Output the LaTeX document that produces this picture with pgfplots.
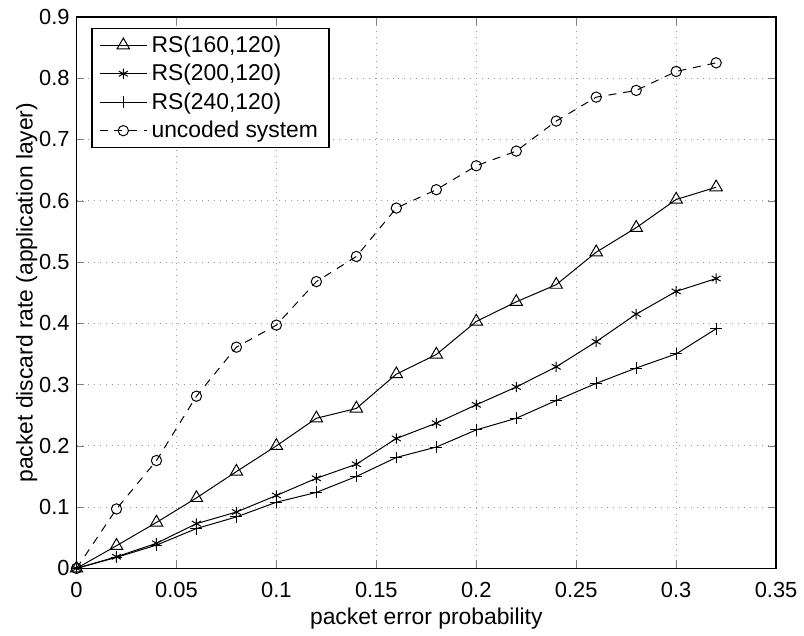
\documentclass[border=0pt]{standalone}
\usepackage{pgfplots}
\pgfplotsset{compat=1.18}
\usepackage{fontspec}
\setmainfont{Liberation Sans}
\usetikzlibrary{calc}
\begin{document}
\begin{tikzpicture}
\begin{axis}[
  scale only axis,
  width=352pt, height=277.5pt,
  xmin=0, xmax=0.35, ymin=0, ymax=0.9,
  xtick={0,0.05,...,0.35}, ytick={0,0.1,...,0.9},
  xticklabels={0,0.05,0.1,0.15,0.2,0.25,0.3,0.35},
  yticklabels={0,0.1,0.2,0.3,0.4,0.5,0.6,0.7,0.8,0.9},
  /pgf/number format/assume math mode=true,
  tick label style={font=\fontsize{11}{13}\selectfont},
  label style={font=\fontsize{11.5}{13}\selectfont},
  xticklabel style={yshift=-3.5pt},
  yticklabel style={xshift=0pt},
  xlabel={packet error probability},
  ylabel={packet discard rate (application layer)},
  xlabel style={yshift=2pt},
  ylabel style={yshift=-6pt},
  tick align=inside, tick pos=both,
  major tick length=4pt,
  grid=major,
  major grid style={dash pattern=on 0.5pt off 2.5pt, gray!80, line width=0.5pt},
  axis line style={line width=0.7pt},
  every axis plot/.append style={black, line width=0.5pt},
  legend style={at={(0,1)}, anchor=north west, xshift=7.5pt, yshift=-5.5pt,
    draw=black, line width=0.7pt, font=\fontsize{11.5}{13}\selectfont,
    inner xsep=3.5pt, inner ysep=1.5pt, row sep=0.5pt},
  legend cell align=left,
  legend image code/.code={%
    \draw[mark repeat=2,mark phase=2, line width=0.5pt]
      plot coordinates {(0cm,0cm) (0.42cm,0cm) (0.84cm,0cm)};},
]
\addplot[mark=triangle, mark size=3.6pt, mark options={solid}] coordinates {
(0,0) (0.02,0.037) (0.04,0.075) (0.06,0.115) (0.08,0.158) (0.1,0.200)
(0.12,0.245) (0.14,0.261) (0.16,0.317) (0.18,0.349) (0.2,0.403)
(0.22,0.435) (0.24,0.463) (0.26,0.516) (0.28,0.556) (0.3,0.602) (0.32,0.622)};
\addlegendentry{RS(160,120)}
\addplot[mark=asterisk, mark size=2.6pt, mark options={solid}] coordinates {
(0,0) (0.02,0.019) (0.04,0.041) (0.06,0.073) (0.08,0.092) (0.1,0.119)
(0.12,0.147) (0.14,0.170) (0.16,0.212) (0.18,0.237) (0.2,0.267)
(0.22,0.296) (0.24,0.329) (0.26,0.370) (0.28,0.415) (0.3,0.452) (0.32,0.473)};
\addlegendentry{RS(200,120)}
\addplot[mark=+, mark size=3pt, mark options={solid}] coordinates {
(0,0) (0.02,0.018) (0.04,0.038) (0.06,0.065) (0.08,0.084) (0.1,0.108)
(0.12,0.124) (0.14,0.150) (0.16,0.181) (0.18,0.198) (0.2,0.226)
(0.22,0.245) (0.24,0.274) (0.26,0.302) (0.28,0.327) (0.3,0.350) (0.32,0.391)};
\addlegendentry{RS(240,120)}
\addplot[mark=o, mark size=2.6pt, dash pattern=on 4pt off 3.5pt, mark options={solid}] coordinates {
(0,0) (0.02,0.097) (0.04,0.176) (0.06,0.281) (0.08,0.361) (0.1,0.397)
(0.12,0.468) (0.14,0.509) (0.16,0.588) (0.18,0.618) (0.2,0.657)
(0.22,0.681) (0.24,0.730) (0.26,0.769) (0.28,0.780) (0.3,0.811) (0.32,0.825)};
\addlegendentry{uncoded system}
\end{axis}
\path ($(current axis.south west)+(-38.5pt,-27.5pt)$) rectangle ($(current axis.north east)+(11.5pt,8.5pt)$);
\end{tikzpicture}
\end{document}
